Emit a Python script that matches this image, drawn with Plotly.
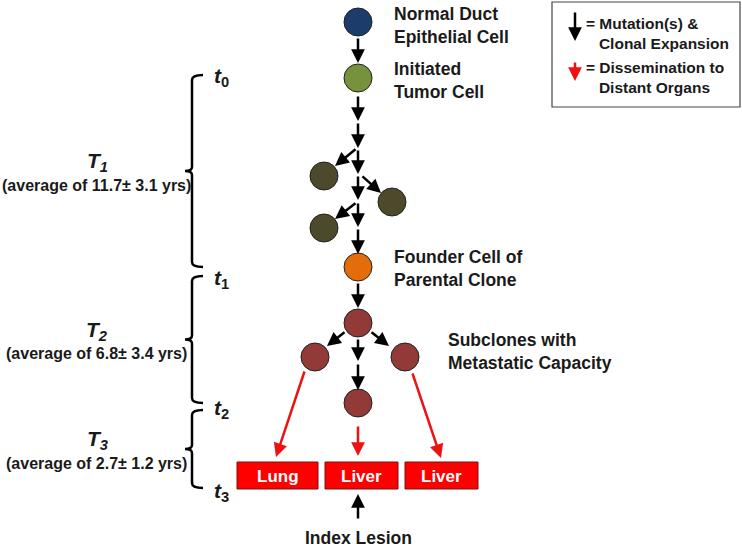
import plotly.graph_objects as go

# ---- data ----
node_names = ["normal", "initiated", "b1", "b2", "b3", "founder", "sub_top", "sub_left", "sub_right", "sub_bottom"]
node_x = [358, 358, 324, 392, 324, 358, 358, 315, 405, 358]
node_y = [22, 78, 176, 202, 228, 267, 323, 357, 357, 403]
node_colors = ["#1c3c6b", "#76923c", "#4d4a2c", "#4d4a2c", "#4d4a2c", "#e46c0a", "#923a38", "#923a38", "#923a38", "#923a38"]

node_labels = ["<b>Normal Duct<br>Epithelial Cell</b>", "<b>Initiated<br>Tumor Cell</b>",
               "<b>Founder Cell of<br>Parental Clone</b>", "<b>Subclones with<br>Metastatic Capacity</b>"]
label_x = [392, 392, 392, 446]
label_y = [25, 80, 268, 351]

# black arrows: (tail_x, tail_y, head_x, head_y)
mut_arrows = [
    (358, 37, 358, 63), (358, 95, 358, 121), (358, 122, 358, 148),
    (357, 148, 335, 166), (358, 149, 358, 174), (361, 175, 381, 193),
    (358, 175, 358, 200), (357, 202, 335, 219), (358, 202, 358, 227),
    (358, 228, 358, 254), (358, 282, 358, 308),
    (346, 331, 327, 346), (370, 331, 389, 346),
    (358, 338, 358, 361), (358, 363, 358, 390),
]
red_arrows = [(305, 370, 276, 457), (358, 425, 358, 456), (412, 372, 441, 458)]

organs = ["Lung", "Liver", "Liver"]
organ_x0 = [237, 325, 405]
organ_x1 = [318, 398, 478]
organ_y0, organ_y1 = 462, 489

bracket_tops = [75, 276, 410]
bracket_bots = [267, 403, 488]
t_labels = ["<b><i>t</i><sub>0</sub></b>", "<b><i>t</i><sub>1</sub></b>", "<b><i>t</i><sub>2</sub></b>", "<b><i>t</i><sub>3</sub></b>"]
t_y = [77, 279, 409, 492]
T_labels = ["<b><i>T<sub>1</sub></i></b>", "<b><i>T<sub>2</sub></i></b>", "<b><i>T<sub>3</sub></i></b>"]
T_sub = ["<b>(average of 11.7\u00b1 3.1 yrs)</b>", "<b>(average of 6.8\u00b1 3.4 yrs)</b>", "<b>(average of 2.7\u00b1 1.2 yrs)</b>"]

FONT = "Arial, Liberation Sans, sans-serif"
TXT = "#1a1a1a"
fig = go.Figure()

fig.add_trace(go.Scatter(x=node_x, y=node_y, mode="markers",
                         marker=dict(size=28, color=node_colors, line=dict(color="#222", width=1)),
                         hoverinfo="skip", showlegend=False))

ann = []
for (tx, ty, hx, hy) in mut_arrows:
    ann.append(dict(x=hx, y=hy, ax=tx, ay=ty, xref="x", yref="y", axref="x", ayref="y",
                    text="", showarrow=True, arrowhead=2, arrowsize=1.1, arrowwidth=2.5, arrowcolor="black"))
for (tx, ty, hx, hy) in red_arrows:
    ann.append(dict(x=hx, y=hy, ax=tx, ay=ty, xref="x", yref="y", axref="x", ayref="y",
                    text="", showarrow=True, arrowhead=2, arrowsize=1.1, arrowwidth=2.5, arrowcolor="#ee1111"))
# index lesion arrow
ann.append(dict(x=358, y=494, ax=358, ay=520, xref="x", yref="y", axref="x", ayref="y",
                text="", showarrow=True, arrowhead=2, arrowsize=1.1, arrowwidth=2.5, arrowcolor="black"))
ann.append(dict(x=358, y=538, xref="x", yref="y", text="<b>Index Lesion</b>", showarrow=False,
                font=dict(family=FONT, size=17.5, color=TXT)))
# legend arrows
ann.append(dict(x=575, y=41, ax=575, ay=11, xref="x", yref="y", axref="x", ayref="y",
                text="", showarrow=True, arrowhead=2, arrowsize=1.1, arrowwidth=2.5, arrowcolor="black"))
ann.append(dict(x=575, y=81, ax=575, ay=61, xref="x", yref="y", axref="x", ayref="y",
                text="", showarrow=True, arrowhead=2, arrowsize=1.1, arrowwidth=2.5, arrowcolor="#ee1111"))
ann.append(dict(x=584, y=33, xref="x", yref="y", xanchor="left", align="left", showarrow=False,
                text="<b>= Mutation(s) &<br>   Clonal Expansion</b>", font=dict(family=FONT, size=15.5, color=TXT)))
ann.append(dict(x=584, y=77, xref="x", yref="y", xanchor="left", align="left", showarrow=False,
                text="<b>= Dissemination to<br>   Distant Organs</b>", font=dict(family=FONT, size=15.5, color=TXT)))

for lab, lx, ly in zip(node_labels, label_x, label_y):
    ann.append(dict(x=lx, y=ly, xref="x", yref="y", xanchor="left", align="left", showarrow=False,
                    text=lab, font=dict(family=FONT, size=17.5, color=TXT)))

for name, x0, x1 in zip(organs, organ_x0, organ_x1):
    ann.append(dict(x=(x0 + x1) / 2, y=(organ_y0 + organ_y1) / 2 + 1, xref="x", yref="y", showarrow=False,
                    text="<b>%s</b>" % name, font=dict(family=FONT, size=17, color="white")))

for lab, ty in zip(t_labels, t_y):
    ann.append(dict(x=212, y=ty, xref="x", yref="y", xanchor="left", showarrow=False,
                    text=lab, font=dict(family=FONT, size=21, color=TXT)))

for i, (lab, sub) in enumerate(zip(T_labels, T_sub)):
    mid = (bracket_tops[i] + bracket_bots[i]) / 2
    ann.append(dict(x=97, y=mid - 9, xref="x", yref="y", showarrow=False,
                    text=lab, font=dict(family=FONT, size=21, color=TXT)))
    ann.append(dict(x=96, y=mid + 14, xref="x", yref="y", showarrow=False,
                    text=sub, font=dict(family=FONT, size=16, color=TXT)))

shapes = []
for name, x0, x1 in zip(organs, organ_x0, organ_x1):
    shapes.append(dict(type="rect", x0=x0, x1=x1, y0=organ_y0, y1=organ_y1, xref="x", yref="y",
                       fillcolor="#ff0000", line=dict(color="#7a1010", width=1)))
# brackets
for top, bot in zip(bracket_tops, bracket_bots):
    mid = (top + bot) / 2
    path = "M 203 %f Q 192 %f 192 %f L 192 %f Q 192 %f 185 %f Q 192 %f 192 %f L 192 %f Q 192 %f 203 %f" % (
        top, top, top + 5, mid - 4, mid, mid, mid, mid + 4, bot - 5, bot, bot)
    shapes.append(dict(type="path", path=path, xref="x", yref="y", line=dict(color="black", width=2.5)))
# legend box
shapes.append(dict(type="rect", x0=552, x1=740, y0=2, y1=107, xref="x", yref="y",
                   line=dict(color="#444", width=1.2), fillcolor="rgba(0,0,0,0)"))

fig.update_layout(
    width=742, height=550, margin=dict(l=0, r=0, t=0, b=0),
    paper_bgcolor="white", plot_bgcolor="white",
    xaxis=dict(range=[0, 742], visible=False, fixedrange=True),
    yaxis=dict(range=[550, 0], visible=False, fixedrange=True),
    annotations=ann, shapes=shapes,
)
# remove the default 8px page margin so the figure fills the window
fig.write_html("out.html", config={"displayModeBar": False, "staticPlot": True},
               post_script="document.body.style.margin='0';document.body.style.overflow='hidden';")
